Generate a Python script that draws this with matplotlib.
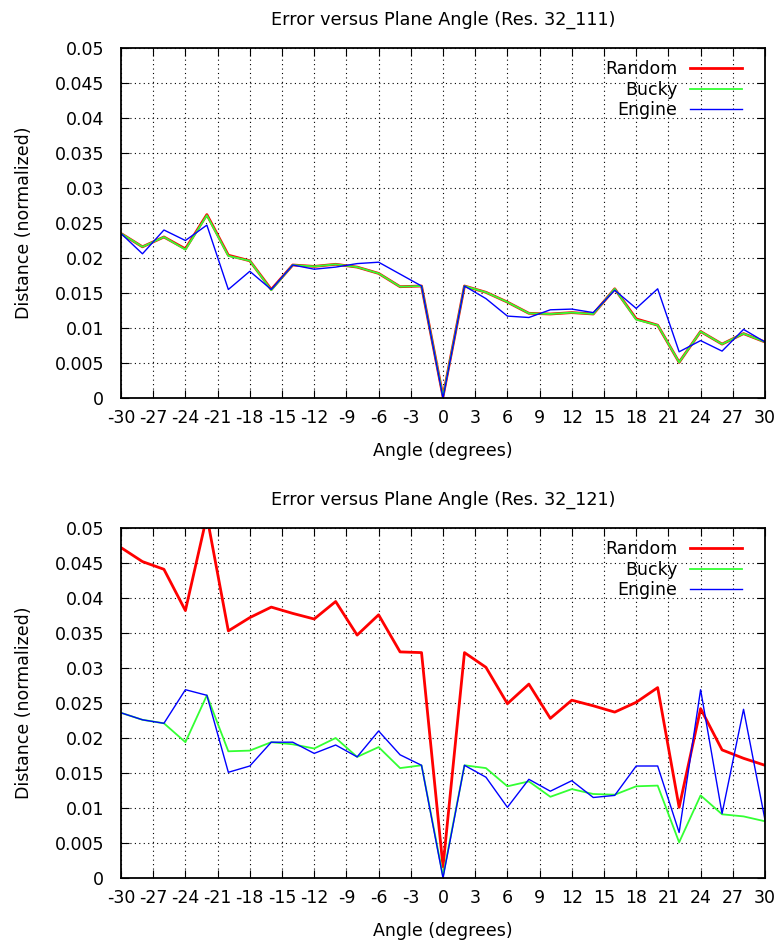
import matplotlib
matplotlib.use("Agg")
import matplotlib.pyplot as plt

angles = list(range(-30, 31, 2))

# Res. 32_111
random_111 = [0.0235, 0.0216, 0.0230, 0.0213, 0.0262, 0.0204, 0.0196, 0.0155, 0.0190, 0.0188,
              0.0191, 0.0187, 0.0178, 0.0159, 0.0160, 0.0002, 0.0160, 0.0151, 0.0137, 0.0121,
              0.0120, 0.0122, 0.0120, 0.0156, 0.0113, 0.0104, 0.0051, 0.0095, 0.0077, 0.0092,
              0.0080]
bucky_111 = [0.0235, 0.0216, 0.0230, 0.0212, 0.0261, 0.0203, 0.0196, 0.0154, 0.0190, 0.0188,
             0.0191, 0.0187, 0.0178, 0.0159, 0.0160, 0.0002, 0.0160, 0.0151, 0.0137, 0.0121,
             0.0120, 0.0122, 0.0120, 0.0156, 0.0112, 0.0104, 0.0051, 0.0095, 0.0077, 0.0092,
             0.0080]
engine_111 = [0.0235, 0.0206, 0.0240, 0.0225, 0.0247, 0.0155, 0.0181, 0.0155, 0.0190, 0.0184,
              0.0187, 0.0192, 0.0194, 0.0177, 0.0160, 0.0000, 0.0160, 0.0142, 0.0117, 0.0115,
              0.0126, 0.0127, 0.0122, 0.0154, 0.0128, 0.0156, 0.0066, 0.0082, 0.0067, 0.0098,
              0.0080]

# Res. 32_121
random_121 = [0.0472, 0.0452, 0.0441, 0.0382, 0.0517, 0.0353, 0.0372, 0.0387, 0.0378, 0.0370,
              0.0395, 0.0347, 0.0376, 0.0323, 0.0322, 0.0016, 0.0322, 0.0301, 0.0249, 0.0277,
              0.0228, 0.0254, 0.0246, 0.0237, 0.0251, 0.0272, 0.0101, 0.0242, 0.0183, 0.0171,
              0.0161]
bucky_121 = [0.0236, 0.0226, 0.0221, 0.0194, 0.0261, 0.0181, 0.0182, 0.0194, 0.0191, 0.0185,
             0.0200, 0.0173, 0.0187, 0.0157, 0.0161, 0.0003, 0.0161, 0.0157, 0.0131, 0.0138,
             0.0116, 0.0127, 0.0120, 0.0119, 0.0131, 0.0132, 0.0051, 0.0118, 0.0091, 0.0088,
             0.0081]
engine_121 = [0.0236, 0.0226, 0.0221, 0.0269, 0.0261, 0.0151, 0.0160, 0.0194, 0.0194, 0.0178,
              0.0190, 0.0173, 0.0210, 0.0176, 0.0161, 0.0000, 0.0161, 0.0144, 0.0101, 0.0141,
              0.0124, 0.0139, 0.0115, 0.0118, 0.0160, 0.0160, 0.0065, 0.0269, 0.0092, 0.0241,
              0.0083]

titles = ["Error versus Plane Angle (Res. 32_111)", "Error versus Plane Angle (Res. 32_121)"]
xticks = list(range(-30, 31, 3))
yticks = [0, 0.005, 0.01, 0.015, 0.02, 0.025, 0.03, 0.035, 0.04, 0.045, 0.05]
ytick_labels = ["0", "0.005", "0.01", "0.015", "0.02", "0.025", "0.03", "0.035", "0.04", "0.045", "0.05"]

plt.rcParams["font.family"] = "DejaVu Sans"
fs = 12.5
fig = plt.figure(figsize=(7.83, 9.42), dpi=100)
W, H = 783, 942

panels = [(random_111, bucky_111, engine_111), (random_121, bucky_121, engine_121)]
tops = [48, 528]

for i, (r, b, e) in enumerate(panels):
    top = tops[i]
    ax = fig.add_axes([121 / W, (H - top - 350) / H, 644 / W, 350 / H])
    ax.plot(angles, r, color="#ff0000", lw=2.0, label="Random")
    ax.plot(angles, b, color="#33ff33", lw=1.3, label="Bucky")
    ax.plot(angles, e, color="#0000ff", lw=1.0, label="Engine")
    ax.set_xlim(-30, 30)
    ax.set_ylim(0, 0.05)
    ax.set_xticks(xticks)
    ax.set_xticklabels([str(t) for t in xticks])
    ax.set_yticks(yticks)
    ax.set_yticklabels(ytick_labels)
    ax.grid(True, color="black", linestyle=(0, (1, 3)), linewidth=0.8)
    ax.tick_params(direction="in", top=True, right=True, length=6, width=0.8,
                   labelsize=fs, colors="black")
    ax.tick_params(axis="y", pad=12)
    ax.tick_params(axis="x", pad=8)
    for s in ax.spines.values():
        s.set_linewidth(1.3)
        s.set_color("black")
    ax.set_title(titles[i], fontsize=12.7, pad=17)
    ax.set_xlabel("Angle (degrees)", fontsize=fs, labelpad=11)
    ax.set_ylabel("Distance (normalized)", fontsize=fs, labelpad=16)
    leg = ax.legend(loc="upper right", frameon=False, markerfirst=False, fontsize=fs,
                    handlelength=3.0, handletextpad=0.7, labelspacing=0.16,
                    borderaxespad=0, borderpad=0, bbox_to_anchor=(0.964, 0.966))
    for t in leg.get_texts():
        t.set_ha("right")

fig.savefig("out.png", dpi=100)
